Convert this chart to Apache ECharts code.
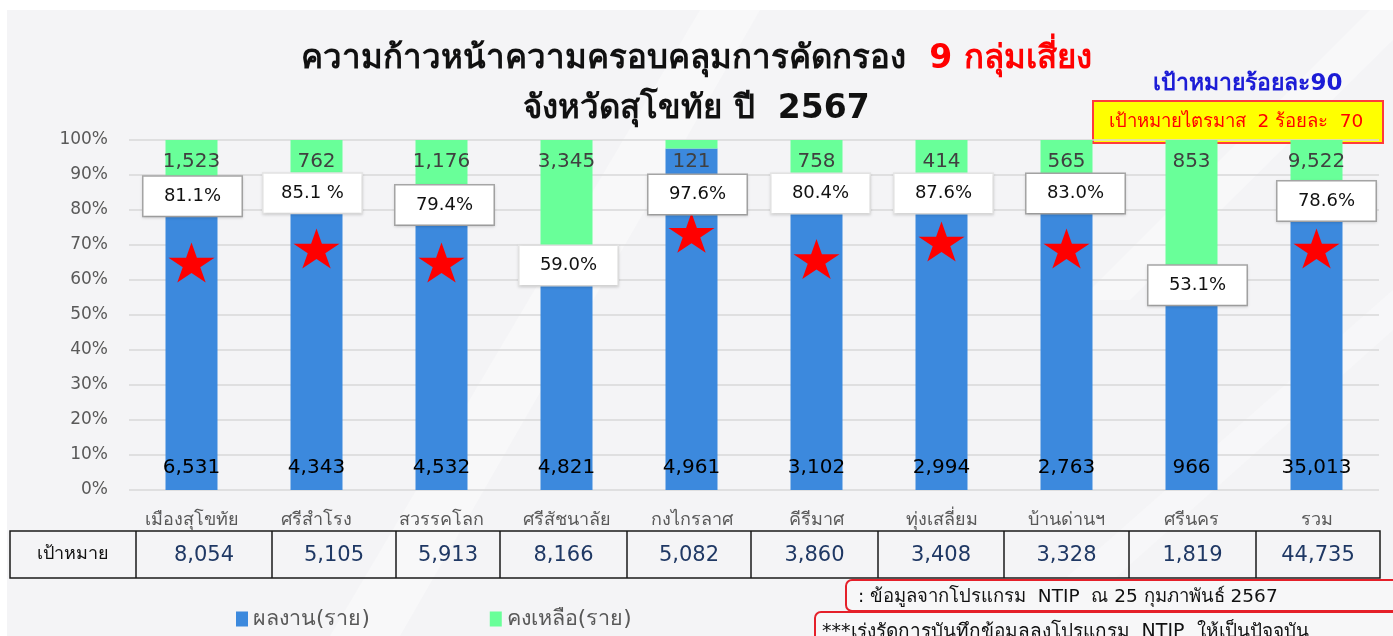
<!DOCTYPE html>
<html>
<head>
<meta charset="utf-8">
<script src="https://cdn.jsdelivr.net/npm/echarts@6/dist/echarts.min.js"></script>
<style>
  html, body { margin: 0; padding: 0; background: #fff; }
  #chart { width: 1393px; height: 636px; }
</style>
</head>
<body>
<div id="chart"></div>
<script>
// ข้อมูล
const districts = ['เมืองสุโขทัย', 'ศรีสำโรง', 'สวรรคโลก', 'ศรีสัชนาลัย', 'กงไกรลาศ', 'คีรีมาศ', 'ทุ่งเสลี่ยม', 'บ้านด่านฯ', 'ศรีนคร', 'รวม'];
const donePct = [81.1, 85.1, 79.4, 59.0, 97.6, 80.4, 87.6, 83.0, 53.1, 78.6];
const doneCount = [6531, 4343, 4532, 4821, 4961, 3102, 2994, 2763, 966, 35013];
const remainCount = [1523, 762, 1176, 3345, 121, 758, 414, 565, 853, 9522];
const targetCount = [8054, 5105, 5913, 8166, 5082, 3860, 3408, 3328, 1819, 44735];
const pctLabels = ['81.1%', '85.1 %', '79.4%', '59.0%', '97.6%', '80.4%', '87.6%', '83.0%', '53.1%', '78.6%'];
const starPos = [65, 69, 65, null, 73.5, 66, 71, 69, null, 69];
const yTicks = [0, 10, 20, 30, 40, 50, 60, 70, 80, 90, 100];

// ตำแหน่ง callout (ปรับเอง)
const calloutOffset = [[1, -10], [-4, 1], [3, -7], [2, -18], [6, 46], [4, -15], [2, 10], [9, -6], [6, -19], [10, -14]];
const calloutBorder = ['#a6a6a6', '#e4e4e4', '#a6a6a6', '#e4e4e4', '#a6a6a6', '#e4e4e4', '#e4e4e4', '#a6a6a6', '#a6a6a6', '#a6a6a6'];
const cellEdges = [10, 136, 272, 396, 500, 627, 751, 878, 1004, 1129, 1256, 1380];

const FONT = "'DejaVu Sans', 'Noto Sans', sans-serif";
const chart = echarts.init(document.getElementById('chart'));

const fmt = v => v.toLocaleString('en-US');

// ตาราง เป้าหมาย
const tableTop = 531, tableH = 47;
const tableGraphics = [];
tableGraphics.push({
  type: 'rect', shape: { x: cellEdges[0], y: tableTop, width: cellEdges[cellEdges.length - 1] - cellEdges[0], height: tableH },
  style: { fill: 'transparent', stroke: '#1a1a1a', lineWidth: 1.5 }
});
for (let i = 1; i < cellEdges.length - 1; i++) {
  tableGraphics.push({
    type: 'line', shape: { x1: cellEdges[i], y1: tableTop, x2: cellEdges[i], y2: tableTop + tableH },
    style: { stroke: '#1a1a1a', lineWidth: 1.5 }
  });
}
tableGraphics.push({
  type: 'text', x: (cellEdges[0] + cellEdges[1]) / 2, y: tableTop + tableH / 2,
  style: { text: 'เป้าหมาย', fill: '#111', font: '18px ' + FONT, align: 'center', verticalAlign: 'middle' }
});
targetCount.forEach((v, i) => {
  tableGraphics.push({
    type: 'text', x: (cellEdges[i + 1] + cellEdges[i + 2]) / 2, y: tableTop + tableH / 2 + 1,
    style: { text: fmt(v), fill: '#1f3864', font: '21px ' + FONT, align: 'center', verticalAlign: 'middle' }
  });
});

const option = {
  backgroundColor: '#ffffff',
  textStyle: { fontFamily: FONT },
  title: {
    text: 'ความก้าวหน้าความครอบคลุมการคัดกรอง  {r|9 กลุ่มเสี่ยง}\nจังหวัดสุโขทัย ปี  2567',
    left: 'center',
    top: 29,
    textStyle: {
      fontSize: 33, fontWeight: 'bold', color: '#111', lineHeight: 50, fontFamily: FONT,
      rich: { r: { fontSize: 33, fontWeight: 'bold', color: '#ff0000', fontFamily: FONT } }
    }
  },
  legend: {
    data: ['ผลงาน(ราย)', 'คงเหลือ(ราย)'],
    left: 231, top: 603,
    itemWidth: 12, itemHeight: 15, itemGap: 120,
    icon: 'rect',
    textStyle: { fontSize: 21.5, color: '#595959', fontFamily: FONT }
  },
  grid: { left: 129, right: 14, top: 140, bottom: 146 },
  xAxis: {
    type: 'category',
    data: districts,
    axisLine: { show: false },
    axisTick: { show: false },
    axisLabel: { fontSize: 18, color: '#595959', margin: 21, fontFamily: FONT }
  },
  yAxis: {
    type: 'value', min: 0, max: 100, interval: 10,
    axisLabel: {
      margin: 21, fontSize: 17, color: '#595959', fontFamily: FONT,
      formatter: v => yTicks.includes(v) ? v + '%' : ''
    },
    splitLine: { lineStyle: { color: '#d9d9d9', width: 1.5 } }
  },
  graphic: [
    { type: 'rect', z: -10, shape: { x: 7, y: 10, width: 1386, height: 626 }, style: { fill: '#f4f4f6' } },
    { type: 'polygon', z: -9, shape: { points: [[330, 636], [400, 636], [760, 10], [700, 10]] }, style: { fill: 'rgba(255,255,255,0.35)' } },
    { type: 'polygon', z: -9, shape: { points: [[1080, 300], [1130, 300], [1393, 40], [1393, 10], [1370, 10]] }, style: { fill: 'rgba(255,255,255,0.35)' } },
    { type: 'polygon', z: -9, shape: { points: [[1000, 636], [1050, 636], [1393, 330], [1393, 290]] }, style: { fill: 'rgba(255,255,255,0.3)' } },
    {
      type: 'text', x: 1248, y: 84,
      style: { text: 'เป้าหมายร้อยละ90', fill: '#1c1cd6', font: 'bold 23px ' + FONT, align: 'center', verticalAlign: 'middle' }
    },
    {
      type: 'rect', shape: { x: 1093, y: 101, width: 290, height: 42 },
      style: { fill: '#ffff00', stroke: '#ff3b3b', lineWidth: 2 }
    },
    {
      type: 'text', x: 1236, y: 122,
      style: { text: 'เป้าหมายไตรมาส  2 ร้อยละ  70', fill: '#ff0000', font: '18.5px ' + FONT, align: 'center', verticalAlign: 'middle' }
    },
    {
      type: 'rect', shape: { x: 846, y: 580, width: 560, height: 31, r: 6 },
      style: { fill: '#f7f7f8', stroke: '#e5202a', lineWidth: 2 }
    },
    {
      type: 'text', x: 858, y: 597,
      style: { text: ': ข้อมูลจากโปรแกรม  NTIP  ณ 25 กุมภาพันธ์ 2567', fill: '#111', font: '18.5px ' + FONT, verticalAlign: 'middle' }
    },
    {
      type: 'rect', shape: { x: 815, y: 612, width: 600, height: 40, r: 6 },
      style: { fill: '#f7f7f8', stroke: '#e5202a', lineWidth: 2 }
    },
    {
      type: 'text', x: 822, y: 632,
      style: { text: '***เร่งรัดการบันทึกข้อมูลลงโปรแกรม  NTIP  ให้เป็นปัจจุบัน', fill: '#111', font: '19px ' + FONT, verticalAlign: 'middle' }
    },
    ...tableGraphics
  ],
  series: [
    {
      name: 'ผลงาน(ราย)',
      type: 'bar',
      stack: 'cover',
      barWidth: 52,
      data: donePct,
      itemStyle: { color: '#3c89dd' },
      label: {
        show: true, position: 'insideBottom', distance: 12,
        fontSize: 20, color: '#000', fontFamily: FONT,
        formatter: p => fmt(doneCount[p.dataIndex])
      }
    },
    {
      name: 'คงเหลือ(ราย)',
      type: 'bar',
      stack: 'cover',
      barWidth: 52,
      data: donePct.map(v => +(100 - v).toFixed(1)),
      itemStyle: { color: '#69ff99' },
      label: {
        show: true, position: 'insideTop', distance: 12,
        fontSize: 20, color: '#404040', fontFamily: FONT,
        formatter: p => fmt(remainCount[p.dataIndex])
      }
    },
    {
      name: 'star',
      type: 'scatter',
      symbol: 'path://M50,0 L61.2,34.5 L97.6,34.5 L68.2,55.9 L79.4,90.5 L50,69.1 L20.6,90.5 L31.8,55.9 L2.4,34.5 L38.8,34.5 Z',
      symbolSize: [46, 40],
      itemStyle: { color: '#ff0000', opacity: 1 },
      data: starPos,
      z: 5
    },
    {
      name: 'pct',
      type: 'scatter',
      symbolSize: 1,
      itemStyle: { color: 'rgba(0,0,0,0)', opacity: 1 },
      z: 6,
      data: donePct.map((v, i) => ({
        value: v,
        label: {
          show: true, position: 'inside', offset: calloutOffset[i],
          formatter: pctLabels[i],
          fontSize: 18, color: '#111', fontFamily: FONT,
          backgroundColor: '#ffffff', borderColor: calloutBorder[i], borderWidth: 1.5,
          width: 98, height: 39, lineHeight: 39, align: 'center', verticalAlign: 'middle',
          shadowColor: 'rgba(0,0,0,0.12)', shadowBlur: 3, shadowOffsetY: 1
        }
      }))
    }
  ]
};

chart.setOption(option);
window.addEventListener('resize', () => chart.resize());
</script>
</body>
</html>
